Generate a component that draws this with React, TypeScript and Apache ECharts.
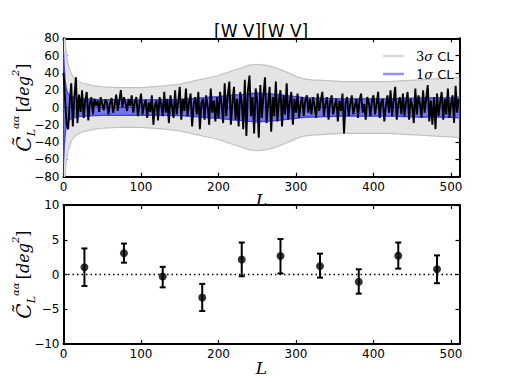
import React, { useEffect, useRef } from "react";
import * as echarts from "echarts";

// ---- Top panel data ----
// Black line: estimated values every 2 multipoles (L = 0, 2, 4, ... 510)
const lineValues: number[] = [
  40, 10, -20, -25, 5, 28, -22, 12, 35, -18, 15, -5, 20, -12, 8, 18, -15, 5, 12, -8,
  10, 2, 8, -5, 12, 4, -3, 9, 6, -8, 5, 11, -6, 3, 15, -4, 8, 20, 0, 12,
  5, -4, 10, 2, 14, -6, 6, 12, -10, 4, 16, -8, 3, 9, -12, 6, -5, 14, -20, 2,
  8, -15, 12, 4, -10, 18, -6, 10, -18, 14, 2, -12, 20, -8, 6, 24, -14, 10, -4, 22,
  -10, 6, 16, -22, 4, 12, -8, 18, -25, 6, 10, -14, 14, 2, -20, 22, -6, 8, -16, 12,
  -12, 18, 4, -18, 28, -10, 14, 30, -20, 6, 24, -14, 10, -22, 18, 6, -25, 32, -33, 20,
  37, -10, 12, -30, 22, 8, -35, 26, -12, 14, 35, -18, 4, 24, -28, 12, -10, 30, -16, 8,
  20, -22, 14, -8, 28, -14, 6, 18, -20, 10, -6, 16, -12, 4, 12, -10, 8, 14, -6, 10,
  -8, 12, 2, -12, 16, -4, 8, 18, -10, 4, 12, -14, 6, 14, -8, 2, 10, -16, 8, -4,
  16, -30, 6, 12, -10, 4, 14, -8, 2, 10, -12, 8, 16, -6, 4, -14, 12, 6, -10, 8,
  14, -8, 4, 18, -12, 6, 10, -16, 2, 14, -6, 20, -10, 8, 24, -14, 4, 12, -8, 16,
  -10, 6, 18, -14, 10, 2, -18, 22, -8, 14, 4, -12, 20, -6, 10, 26, -16, 8, -20, 12,
  -25, 16, -10, 6, 18, -14, 10, -8, 22, -12, 4, 14, -18, 25, -6, 10,
];
const lineStep = 2;

// Confidence band half-widths at these multipoles
const bandL: number[] = [
  0, 1, 2, 3, 4, 6, 8, 10, 13, 16, 20, 25, 30, 40, 50, 70, 100, 130, 150, 170,
  190, 200, 210, 220, 230, 240, 250, 260, 270, 280, 290, 300, 310, 320, 340, 360, 380, 400, 420, 440,
  460, 480, 500, 511,
];
const sigma3: number[] = [
  120, 95, 80, 68, 60, 50, 44, 39, 35, 32, 30, 28, 27, 25, 24, 23, 23, 25, 27, 31,
  35, 37, 40, 43, 46, 49, 50, 49, 47, 44, 40, 36, 33, 32, 31, 30, 30, 30, 30, 31,
  32, 33, 34, 35,
];
const sigma1: number[] = [
  65, 45, 32, 25, 20, 16, 14, 13, 12, 11, 10.5, 10, 10, 9.5, 9, 9, 8.7, 9, 9.5, 10.5,
  12, 12.5, 13.5, 14.5, 15, 16, 16.5, 16, 15.5, 14.5, 13.5, 12.5, 11.5, 11, 10.5, 10, 10, 10, 10, 10.5,
  11, 11, 11.5, 12,
];

// ---- Bottom panel data ----
const binL: number[] = [27, 78, 128, 179, 230, 280, 331, 381, 432, 482];
const binVal: number[] = [1.05, 3.05, -0.3, -3.3, 2.15, 2.65, 1.2, -1.05, 2.7, 0.75];
const binLo: number[] = [-1.65, 1.7, -1.85, -5.25, -0.25, 0.15, -0.45, -2.75, 0.85, -1.25];
const binHi: number[] = [3.75, 4.45, 1.1, -1.35, 4.6, 5.1, 3.0, 0.75, 4.6, 2.75];

const topTicks = { min: -80, max: 80, interval: 20 };
const botTicks = { min: -10, max: 10, interval: 5 };
const xTicks = { min: 0, max: 511, interval: 100 };

const SANS = "DejaVu Sans";
const SERIF = "DejaVu Serif";

function minus(v: number) {
  return String(v).replace("-", "\u2212");
}

const yNameRich = {
  c: { fontFamily: SERIF, fontStyle: "italic", fontSize: 20, color: "#000", verticalAlign: "middle", lineHeight: 26 },
  sub: { fontFamily: SERIF, fontStyle: "italic", fontSize: 11, color: "#000", verticalAlign: "bottom", lineHeight: 26 },
  sup: { fontFamily: SERIF, fontStyle: "italic", fontSize: 10, color: "#000", verticalAlign: "top", lineHeight: 22 },
  t: { fontFamily: SERIF, fontStyle: "italic", fontSize: 16, color: "#000", verticalAlign: "middle", lineHeight: 26 },
  b: { fontFamily: SERIF, fontSize: 16, color: "#000", verticalAlign: "middle", lineHeight: 26 },
};
const yNameText = "{c|C\u0303}{sub|L}{sup|\u03b1\u03b1} {b|[}{t|deg}{sup|2}{b|]}";

function axisCommon(extra: any) {
  return {
    axisLine: { show: true, onZero: false, lineStyle: { color: "#000", width: 2 } },
    axisTick: { show: true, inside: true, length: 4, lineStyle: { color: "#000", width: 1.2 } },
    splitLine: { show: false },
    nameMoveOverlap: false,
    ...extra,
  };
}

function bandSeries(name: string, half: number[], fill: string, edge: string, edgeWidth: number) {
  return {
    name,
    type: "custom",
    xAxisIndex: 0,
    yAxisIndex: 0,
    data: [[bandL[0], 0]],
    encode: { x: 0, y: 1 },
    itemStyle: { color: fill },
    renderItem: (params: any, api: any) => {
      const upper = bandL.map((l, i) => api.coord([l, half[i]]));
      const lower = bandL.map((l, i) => api.coord([l, -half[i]]));
      const poly = upper.concat(lower.slice().reverse());
      const cs = params.coordSys;
      return {
        type: "group",
        clipPath: { type: "rect", shape: { x: cs.x, y: cs.y, width: cs.width, height: cs.height } },
        children: [
          { type: "polygon", shape: { points: poly }, style: { fill, stroke: "none" } },
          { type: "polyline", shape: { points: upper }, style: { fill: "none", stroke: edge, lineWidth: edgeWidth } },
          { type: "polyline", shape: { points: lower }, style: { fill: "none", stroke: edge, lineWidth: edgeWidth } },
        ],
      };
    },
  };
}

export default function App() {
  const ref = useRef<HTMLDivElement>(null);

  useEffect(() => {
    document.body.style.margin = "0";
    if (!ref.current) return;
    const chart = echarts.init(ref.current, null, { renderer: "svg" });

    const lineData = lineValues.map((v, i) => [i * lineStep, v]);
    const errData = binL.map((l, i) => [l, binLo[i], binHi[i]]);
    const ptData = binL.map((l, i) => [l, binVal[i]]);

    const xLabel = {
      show: true,
      fontFamily: SANS,
      fontSize: 12,
      color: "#000",
      margin: 4,
      showMaxLabel: false,
    };
    const yLabel = {
      show: true,
      fontFamily: SANS,
      fontSize: 12,
      color: "#000",
      margin: 4,
      formatter: (v: number) => minus(v),
    };
    const xName = {
      name: "L",
      nameLocation: "middle",
      nameGap: 15,
      nameTextStyle: { fontFamily: SERIF, fontStyle: "italic", fontSize: 17, color: "#000" },
    };

    chart.setOption({
      animation: false,
      backgroundColor: "#fff",
      title: {
        text: "[W V][W V]",
        left: 209,
        top: 17,
        textStyle: { fontFamily: SANS, fontSize: 17, fontWeight: "normal", color: "#000" },
      },
      legend: {
        orient: "vertical",
        left: 378,
        top: 43,
        itemWidth: 21,
        itemHeight: 2.5,
        itemGap: 2,
        selectedMode: false,
        textStyle: {
          fontFamily: SANS,
          fontSize: 13,
          color: "#000",
          lineHeight: 16,
          padding: [0, 0, 0, 7],
          rich: {
            m: { fontFamily: SERIF, fontSize: 13, color: "#000", lineHeight: 16 },
            s: { fontFamily: SERIF, fontStyle: "italic", fontSize: 13, color: "#000", lineHeight: 16 },
          },
        },
        formatter: (name: string) => {
          const n = name.charAt(0);
          return `{m|${n}}{s|\u03c3} CL`;
        },
        data: [
          { name: "3\u03c3 CL", icon: "rect", itemStyle: { color: "#d9d9d9" } },
          { name: "1\u03c3 CL", icon: "rect", itemStyle: { color: "#9494ff" } },
        ],
      },
      grid: [
        { left: 63.5, top: 38.3, width: 396, height: 138.4, containLabel: false, outerBoundsMode: "none" },
        { left: 63.5, top: 205, width: 396, height: 139, containLabel: false, outerBoundsMode: "none" },
      ],
      xAxis: [
        axisCommon({ type: "value", gridIndex: 0, position: "bottom", ...xTicks, axisLabel: xLabel, ...xName }),
        axisCommon({ type: "value", gridIndex: 0, position: "top", ...xTicks, axisLabel: { show: false } }),
        axisCommon({ type: "value", gridIndex: 1, position: "bottom", ...xTicks, axisLabel: xLabel, ...xName }),
        axisCommon({ type: "value", gridIndex: 1, position: "top", ...xTicks, axisLabel: { show: false } }),
      ],
      yAxis: [
        axisCommon({
          type: "value", gridIndex: 0, position: "left", ...topTicks, axisLabel: yLabel,
          name: yNameText, nameLocation: "middle", nameRotate: 90, nameGap: 27,
          nameTextStyle: { rich: yNameRich },
        }),
        axisCommon({ type: "value", gridIndex: 0, position: "right", ...topTicks, axisLabel: { show: false } }),
        axisCommon({
          type: "value", gridIndex: 1, position: "left", ...botTicks, axisLabel: yLabel,
          name: yNameText, nameLocation: "middle", nameRotate: 90, nameGap: 27,
          nameTextStyle: { rich: yNameRich },
        }),
        axisCommon({ type: "value", gridIndex: 1, position: "right", ...botTicks, axisLabel: { show: false } }),
      ],
      series: [
        bandSeries("3\u03c3 CL", sigma3, "#e4e4e4", "#c2c2c2", 1.2),
        bandSeries("1\u03c3 CL", sigma1, "#7474f2", "#3c3cff", 1.3),
        {
          name: "mean", type: "line", xAxisIndex: 0, yAxisIndex: 0,
          data: [[xTicks.min, 0], [xTicks.max, 0]], symbol: "none",
          lineStyle: { color: "#3c3cff", width: 1 },
        },
        {
          name: "data", type: "line", xAxisIndex: 0, yAxisIndex: 0, data: lineData,
          symbol: "none", lineStyle: { color: "#000", width: 1.9 },
        },
        {
          name: "zero", type: "line", xAxisIndex: 2, yAxisIndex: 2,
          data: [[xTicks.min, 0], [xTicks.max, 0]], symbol: "none",
          lineStyle: { color: "#000", width: 1.5, type: [1.5, 3] },
        },
        {
          name: "err", type: "custom", xAxisIndex: 2, yAxisIndex: 2, data: errData,
          encode: { x: 0, y: [1, 2] },
          renderItem: (params: any, api: any) => {
            const x = api.value(0);
            const lo = api.coord([x, api.value(1)]);
            const hi = api.coord([x, api.value(2)]);
            const w = 3;
            const style = { stroke: "#000", lineWidth: 2 };
            return {
              type: "group",
              children: [
                { type: "line", shape: { x1: lo[0], y1: lo[1], x2: hi[0], y2: hi[1] }, style },
                { type: "line", shape: { x1: hi[0] - w, y1: hi[1], x2: hi[0] + w, y2: hi[1] }, style },
                { type: "line", shape: { x1: lo[0] - w, y1: lo[1], x2: lo[0] + w, y2: lo[1] }, style },
              ],
            };
          },
        },
        {
          name: "bins", type: "scatter", xAxisIndex: 2, yAxisIndex: 2, data: ptData,
          symbol: "circle", symbolSize: 8, itemStyle: { color: "#000" },
        },
      ],
    });

    return () => chart.dispose();
  }, []);

  return <div ref={ref} style={{ width: 509, height: 382 }} />;
}
